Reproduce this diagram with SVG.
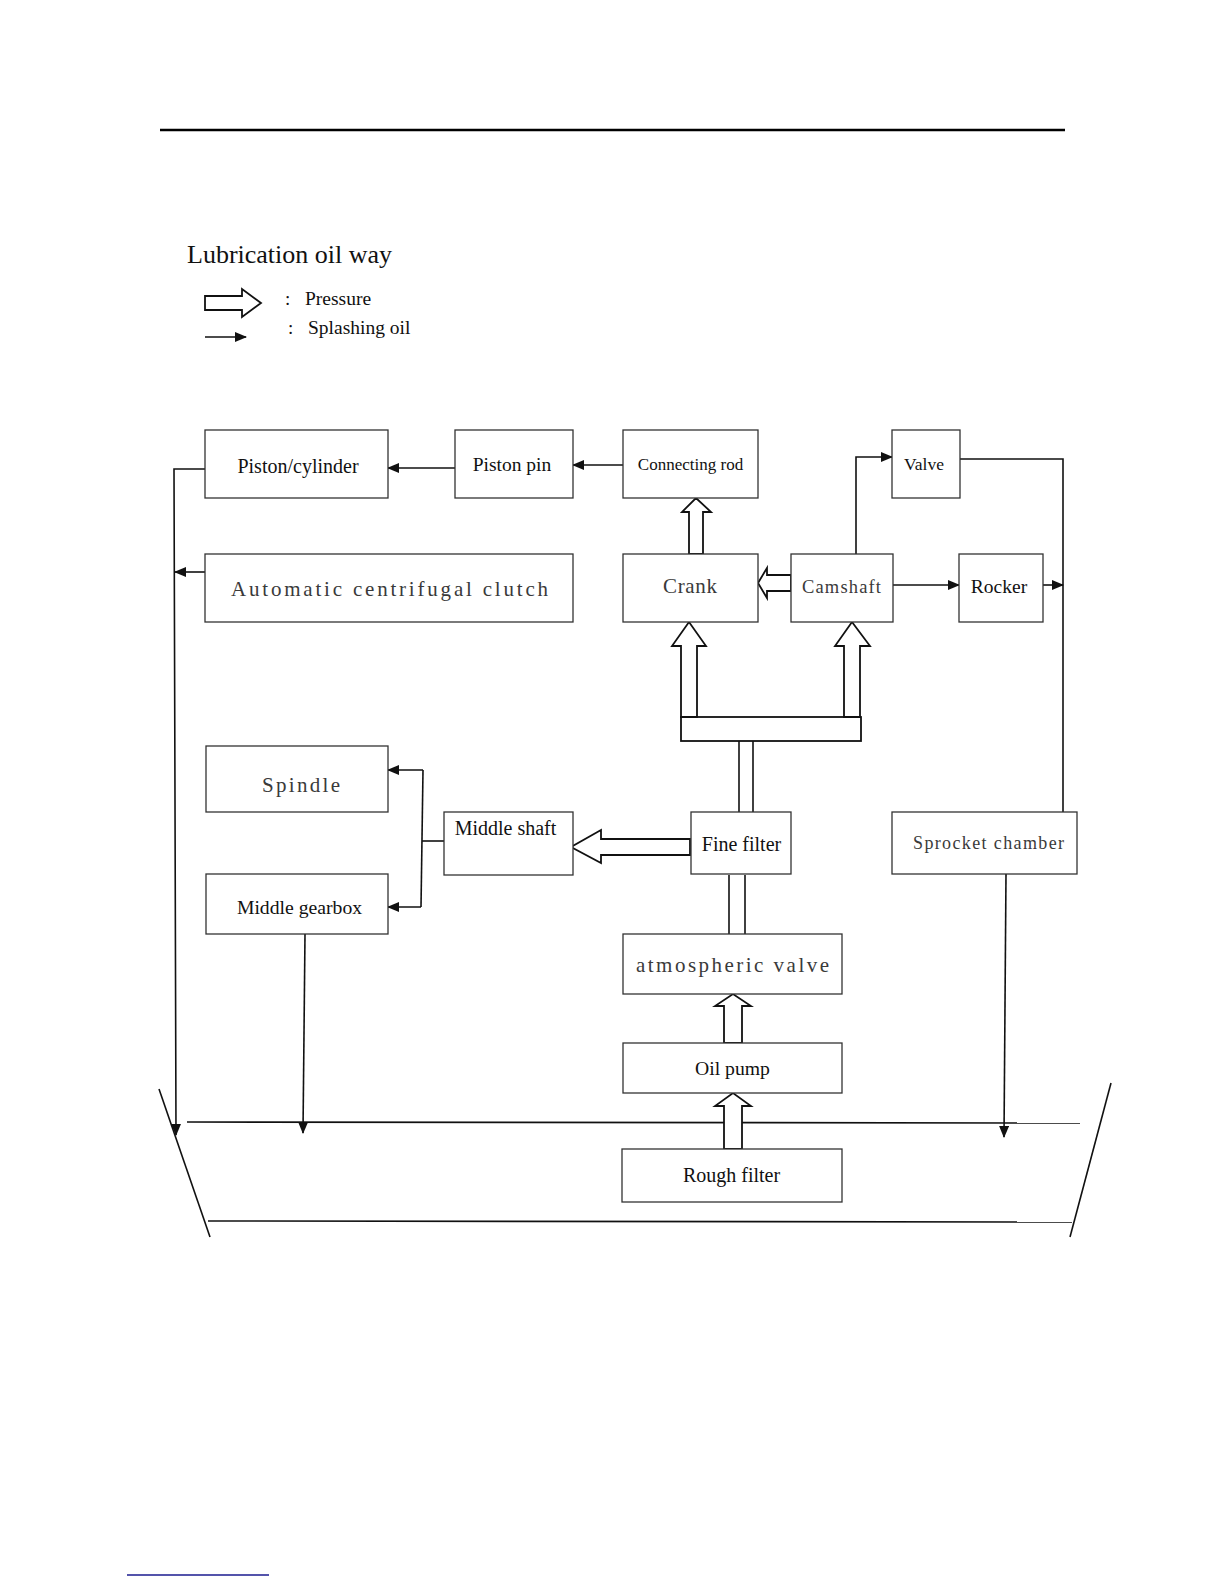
<svg xmlns="http://www.w3.org/2000/svg" width="1224" height="1584" viewBox="0 0 1224 1584">
<style>
.box{fill:#fff;stroke:#333;stroke-width:1.3}
.serif{font-family:"Liberation Serif","Times New Roman",serif;fill:#111}
.mono{font-family:"Liberation Serif","Times New Roman",serif;fill:#3a3a3a}
.ln{fill:none;stroke:#111;stroke-width:1.6}
.hollow{fill:#fff;stroke:#111;stroke-width:1.8;stroke-linejoin:miter}
</style>
<defs>
<marker id="ah" markerUnits="userSpaceOnUse" markerWidth="12" markerHeight="10" refX="11" refY="5" orient="auto">
<path d="M0,0 L12,5 L0,10 z" fill="#111"/>
</marker>
</defs>
<rect width="1224" height="1584" fill="#fff"/>
<line x1="160" y1="130" x2="1065" y2="130" stroke="#000" stroke-width="2.5"/>
<line x1="127" y1="1575" x2="269" y2="1575" stroke="#1b1b8f" stroke-width="1.5"/>

<g id="legend">
<text class="serif" x="187" y="263" font-size="26">Lubrication oil way</text>
<polygon class="hollow" points="205,296 242,296 242,289 261,303 242,317 242,310 205,310"/>
<text class="serif" x="285" y="305" font-size="19">:</text>
<text class="serif" x="305" y="305" font-size="19.5">Pressure</text>
<line class="ln" x1="205" y1="337" x2="246" y2="337" marker-end="url(#ah)"/>
<text class="serif" x="288" y="334" font-size="19">:</text>
<text class="serif" x="308" y="334" font-size="19.5">Splashing oil</text>
</g>

<g id="oilpan">
<line class="ln" x1="159" y1="1089" x2="210" y2="1237"/>
<line class="ln" x1="1111" y1="1083" x2="1070" y2="1237"/>
<line class="ln" x1="187" y1="1122" x2="1080" y2="1123"/>
<line class="ln" x1="208" y1="1221" x2="1072" y2="1222"/>
</g>

<g id="connectors">
<line class="ln" x1="623" y1="465" x2="573" y2="465" marker-end="url(#ah)"/>
<line class="ln" x1="455" y1="468" x2="388" y2="468" marker-end="url(#ah)"/>
<polyline class="ln" points="205,469 174,469 176,1135" marker-end="url(#ah)"/>
<line class="ln" x1="205" y1="572" x2="175" y2="572" marker-end="url(#ah)"/>
<polyline class="ln" points="856,554 856,457 892,457" marker-end="url(#ah)"/>
<line class="ln" x1="893" y1="585" x2="959" y2="585" marker-end="url(#ah)"/>
<line class="ln" x1="1043" y1="585" x2="1063" y2="585" marker-end="url(#ah)"/>
<polyline class="ln" points="960,459 1063,459 1063,812"/>
<line class="ln" x1="444" y1="841" x2="422" y2="841"/>
<line class="ln" x1="423" y1="770" x2="421" y2="907"/>
<line class="ln" x1="423" y1="770" x2="388" y2="770" marker-end="url(#ah)"/>
<line class="ln" x1="421" y1="907" x2="388" y2="907" marker-end="url(#ah)"/>
<line class="ln" x1="305" y1="934" x2="303" y2="1133" marker-end="url(#ah)"/>
<line class="ln" x1="1006" y1="874" x2="1004" y2="1137" marker-end="url(#ah)"/>
<!-- pressure arrows -->
<polygon class="hollow" points="689,554 689,512 682,512 696,498 711,512 703,512 703,554"/>
<polygon class="hollow" points="791,575 767,575 767,568 758,583 767,598 767,591 791,591"/>
<rect class="hollow" x="681" y="717" width="180" height="24"/>
<polygon class="hollow" points="681,717 681,646 672,646 689,622 706,646 697,646 697,717"/>
<polygon class="hollow" points="844,717 844,646 835,646 852,622 870,646 860,646 860,717"/>
<line class="ln" x1="739" y1="741" x2="739" y2="812"/>
<line class="ln" x1="753" y1="741" x2="753" y2="812"/>
<polygon class="hollow" points="690,839 601,839 601,830 571,847 601,863 601,855 690,855"/>
<line class="ln" x1="729" y1="875" x2="729" y2="934"/>
<line class="ln" x1="745" y1="875" x2="745" y2="934"/>
<polygon class="hollow" points="724,1043 724,1006 715,1006 733,994 751,1006 742,1006 742,1043"/>
<polygon class="hollow" points="724,1149 724,1106 715,1106 733,1093 751,1106 742,1106 742,1149"/>
</g>

<g id="piston-cylinder"><rect class="box" x="205" y="430" width="183" height="68"/><text class="serif" x="298" y="473" font-size="20" text-anchor="middle">Piston/cylinder</text></g>
<g id="piston-pin"><rect class="box" x="455" y="430" width="118" height="68"/><text class="serif" x="512" y="471" font-size="19.5" text-anchor="middle">Piston pin</text></g>
<g id="connecting-rod"><rect class="box" x="623" y="430" width="135" height="68"/><text class="serif" x="690.5" y="470" font-size="17" text-anchor="middle">Connecting rod</text></g>
<g id="valve"><rect class="box" x="892" y="430" width="68" height="68"/><text class="serif" x="924" y="470" font-size="17.5" text-anchor="middle">Valve</text></g>
<g id="clutch"><rect class="box" x="205" y="554" width="368" height="68"/><text class="mono" x="389.5" y="596" font-size="21" text-anchor="middle" textLength="317" lengthAdjust="spacing">Automatic centrifugal clutch</text></g>
<g id="crank"><rect class="box" x="623" y="554" width="135" height="68"/><text class="mono" x="690" y="593" font-size="21" text-anchor="middle" textLength="54" lengthAdjust="spacing">Crank</text></g>
<g id="camshaft"><rect class="box" x="791" y="554" width="102" height="68"/><text class="mono" x="841.5" y="593" font-size="18.5" text-anchor="middle" textLength="79" lengthAdjust="spacing">Camshaft</text></g>
<g id="rocker"><rect class="box" x="959" y="554" width="84" height="68"/><text class="serif" x="999" y="593" font-size="19.5" text-anchor="middle">Rocker</text></g>
<g id="spindle"><rect class="box" x="206" y="746" width="182" height="66"/><text class="mono" x="301" y="792" font-size="21" text-anchor="middle" textLength="78" lengthAdjust="spacing">Spindle</text></g>
<g id="middle-shaft"><rect class="box" x="444" y="812" width="129" height="63"/><text class="serif" x="505.5" y="835" font-size="20" text-anchor="middle">Middle shaft</text></g>
<g id="fine-filter"><rect class="box" x="691" y="812" width="100" height="62"/><text class="serif" x="741.5" y="851" font-size="20" text-anchor="middle">Fine filter</text></g>
<g id="sprocket-chamber"><rect class="box" x="892" y="812" width="185" height="62"/><text class="mono" x="988.5" y="849" font-size="18" text-anchor="middle" textLength="151" lengthAdjust="spacing">Sprocket chamber</text></g>
<g id="middle-gearbox"><rect class="box" x="206" y="874" width="182" height="60"/><text class="serif" x="299.5" y="914" font-size="19.7" text-anchor="middle">Middle gearbox</text></g>
<g id="atmospheric-valve"><rect class="box" x="623" y="934" width="219" height="60"/><text class="mono" x="732.5" y="972" font-size="21" text-anchor="middle" textLength="193" lengthAdjust="spacing">atmospheric valve</text></g>
<g id="oil-pump"><rect class="box" x="623" y="1043" width="219" height="50"/><text class="serif" x="732.5" y="1075" font-size="19.7" text-anchor="middle">Oil pump</text></g>
<g id="rough-filter"><rect class="box" x="622" y="1149" width="220" height="53"/><text class="serif" x="731.5" y="1182" font-size="20" text-anchor="middle">Rough filter</text></g>
</svg>
